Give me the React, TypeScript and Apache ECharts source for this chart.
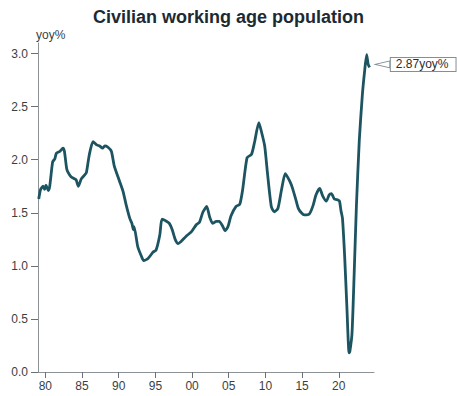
import React, { useEffect, useRef } from "react";
import * as echarts from "echarts";

const titleText = "Civilian working age population";
const unitLabel = "yoy%";

const years: number[] = [
  1979.1, 1979.35, 1979.7, 1979.9, 1980.1, 1980.4, 1980.6, 1981.0, 1981.3, 1981.5,
  1982.0, 1982.4, 1982.6, 1982.9, 1983.1, 1983.5, 1984.0, 1984.2, 1984.5, 1984.9,
  1985.4, 1985.6, 1986.0, 1986.5, 1987.0, 1987.4, 1987.8, 1988.1, 1988.5, 1989.0,
  1989.4, 1990.1, 1990.6, 1991.0, 1991.5, 1991.8, 1992.0, 1992.1, 1992.6, 1993.1,
  1993.4, 1994.0, 1994.7, 1995.1, 1995.6, 1995.9, 1996.5, 1996.9, 1997.3, 1997.7,
  1998.1, 1998.5, 1999.2, 1999.9, 2000.6, 2001.0, 2001.5, 2002.0, 2002.4, 2002.8,
  2003.3, 2003.7, 2004.2, 2004.5, 2004.9, 2005.3, 2006.0, 2006.5, 2006.9, 2007.5,
  2008.1, 2008.5, 2009.1, 2009.4, 2009.9, 2010.3, 2010.8, 2011.2, 2011.7, 2012.2,
  2012.7, 2013.3, 2013.7, 2014.2, 2014.5, 2014.9, 2015.3, 2016.0, 2016.5, 2016.9,
  2017.4, 2017.8, 2018.3, 2018.7, 2019.0, 2019.4, 2019.9, 2020.1, 2020.3, 2020.5,
  2020.8, 2021.1, 2021.4, 2021.5, 2021.8, 2022.1, 2022.4, 2022.8, 2023.2, 2023.5,
  2023.8, 2024.0, 2024.2,
];

const values: number[] = [
  1.63, 1.72, 1.75, 1.72, 1.76, 1.71, 1.75, 1.98, 2.01, 2.06,
  2.08, 2.11, 2.08, 1.92, 1.88, 1.84, 1.82, 1.81, 1.75, 1.82,
  1.86, 1.88, 2.05, 2.17, 2.14, 2.13, 2.11, 2.13, 2.12, 2.08,
  1.94, 1.8, 1.7, 1.58, 1.45, 1.4, 1.34, 1.37, 1.18, 1.09,
  1.05, 1.07, 1.13, 1.15, 1.29, 1.44, 1.42, 1.4, 1.34, 1.25,
  1.21, 1.23, 1.28, 1.32, 1.39, 1.41, 1.51, 1.56, 1.46, 1.4,
  1.42, 1.42, 1.37, 1.33, 1.37, 1.47, 1.56, 1.58, 1.72, 2.02,
  2.05, 2.16, 2.35, 2.28, 2.13, 1.86, 1.56, 1.51, 1.54, 1.72,
  1.87, 1.8, 1.73, 1.61, 1.54, 1.5, 1.48, 1.49, 1.57, 1.67,
  1.73, 1.66, 1.61, 1.67, 1.68, 1.63, 1.62, 1.61, 1.52, 1.45,
  1.09, 0.62, 0.18, 0.19, 0.36, 0.93, 1.56, 2.19, 2.6, 2.82,
  2.99, 2.9, 2.87,
];

const xTicks: number[] = [1980, 1985, 1990, 1995, 2000, 2005, 2010, 2015, 2020];
const yTicks: number[] = [0, 0.5, 1.0, 1.5, 2.0, 2.5, 3.0];

const FONT = "'Liberation Sans', Arial, sans-serif";

export default function App() {
  const ref = useRef<HTMLDivElement>(null);

  useEffect(() => {
    if (!ref.current) return;
    const chart = echarts.init(ref.current, undefined, { renderer: "svg" });
    const data = years.map((y, i) => [y, values[i]]);
    const last = data[data.length - 1];

    chart.setOption({
      animation: false,
      backgroundColor: "#ffffff",
      textStyle: { fontFamily: FONT },
      title: {
        text: titleText,
        left: "center",
        top: 3,
        textStyle: {
          fontFamily: FONT,
          fontSize: 18,
          fontWeight: "bold",
          color: "#1c2a33",
        },
      },
      grid: { left: 38, right: 83, top: 43, bottom: 24, containLabel: false },
      xAxis: {
        type: "value",
        min: 1979,
        max: 2024.8,
        splitLine: { show: false },
        axisLine: { show: true, lineStyle: { color: "#8c9296", width: 1 } },
        axisTick: {
          show: true,
          length: 6,
          customValues: xTicks,
          lineStyle: { color: "#6a7075" },
        },
        axisLabel: {
          customValues: xTicks,
          margin: 8,
          fontSize: 12,
          color: "#3a3f44",
          fontFamily: FONT,
          formatter: (v: number) => String(Math.round(v) % 100).padStart(2, "0"),
        },
      },
      yAxis: {
        type: "value",
        min: 0,
        max: 3.1,
        name: unitLabel,
        nameLocation: "end",
        nameGap: 2,
        nameTextStyle: {
          align: "left",
          fontSize: 12,
          color: "#3a3f44",
          fontFamily: FONT,
          padding: [0, 0, 0, -2],
        },
        splitLine: { show: false },
        axisLine: { show: true, lineStyle: { color: "#8c9296", width: 1 } },
        axisTick: {
          show: true,
          length: 7,
          customValues: yTicks,
          lineStyle: { color: "#6a7075" },
        },
        axisLabel: {
          customValues: yTicks,
          margin: 10,
          fontSize: 12,
          color: "#3a3f44",
          fontFamily: FONT,
          formatter: (v: number) => v.toFixed(1),
        },
      },
      series: [
        {
          type: "line",
          data,
          showSymbol: false,
          smooth: 0.2,
          lineStyle: { color: "#1d5461", width: 2.8 },
          itemStyle: { color: "#1d5461" },
          markPoint: {
            silent: true,
            symbol: "path://M0,3.5 L15,0 L15,7 Z",
            symbolSize: [15, 7],
            symbolOffset: [13, -3],
            itemStyle: { color: "#ffffff", borderColor: "#7f9097", borderWidth: 1 },
            label: {
              show: true,
              position: "right",
              distance: 0,
              fontSize: 12,
              color: "#2a2f33",
              fontFamily: FONT,
              backgroundColor: "#ffffff",
              borderColor: "#7f9097",
              borderWidth: 1,
              padding: [1, 7, 0, 5],
              formatter: () => `${(last[1] as number).toFixed(2)}${unitLabel}`,
            },
            data: [{ coord: last }],
          },
        },
      ],
    });

    return () => chart.dispose();
  }, []);

  return (
    <div
      ref={ref}
      style={{ position: "absolute", left: 0, top: 0, width: 457, height: 396 }}
    />
  );
}
